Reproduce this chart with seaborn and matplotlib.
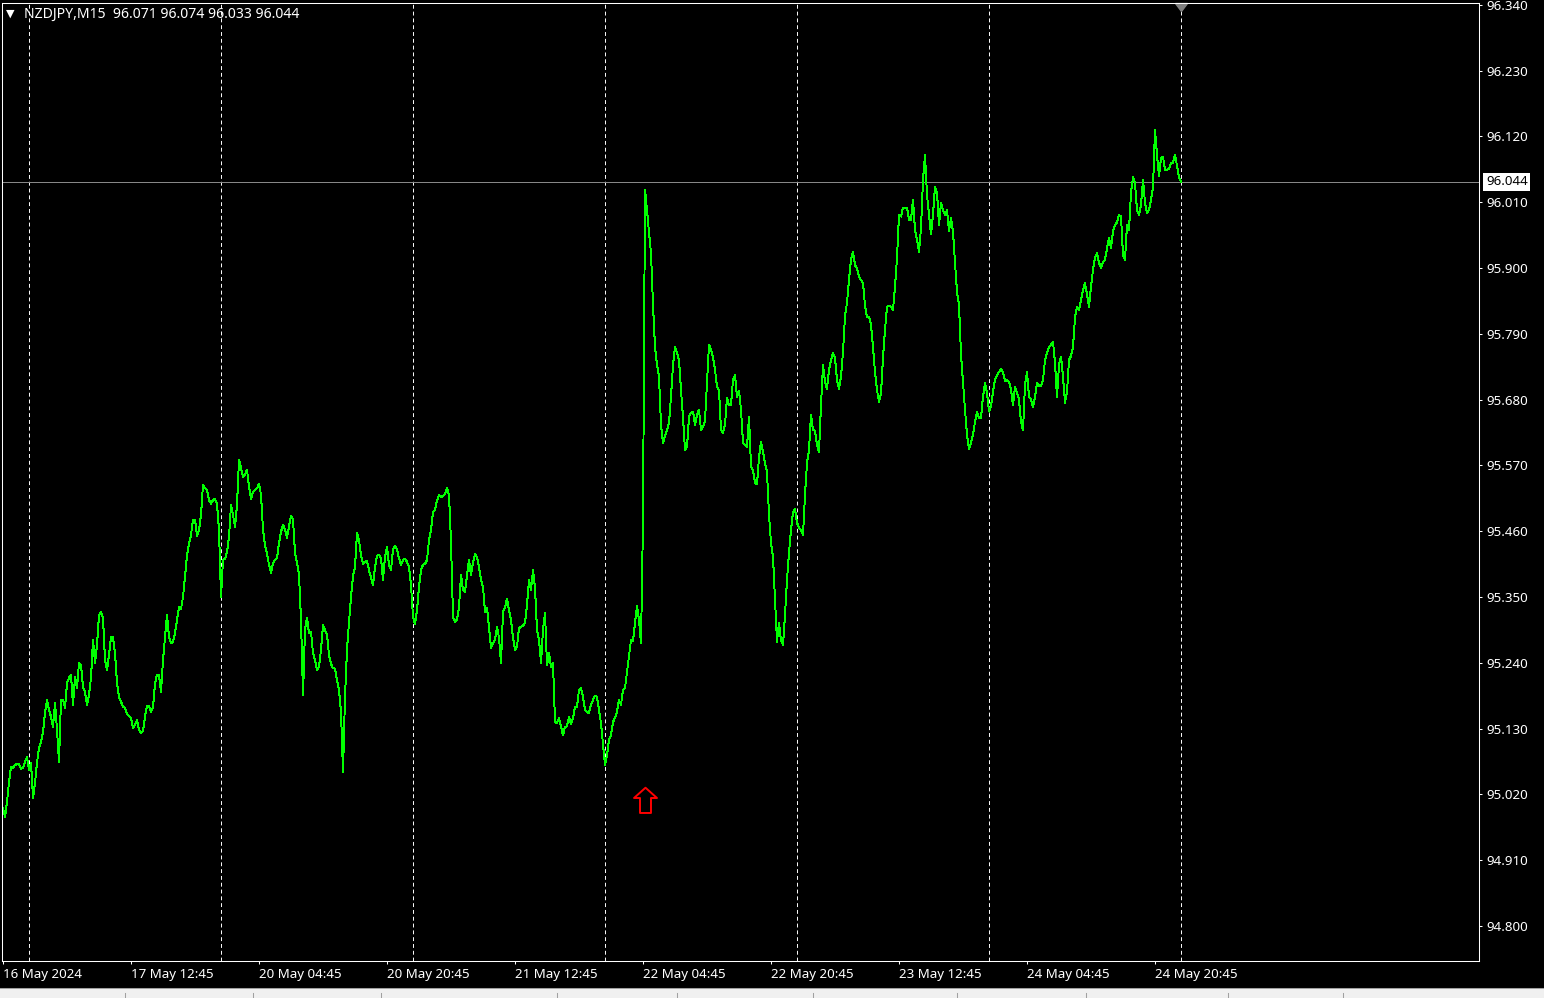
import numpy as np
import pandas as pd
import matplotlib
matplotlib.use("Agg")
import matplotlib.pyplot as plt
import seaborn as sns
from matplotlib.path import Path
from matplotlib.patches import Rectangle
from matplotlib.lines import Line2D

symbol = "NZDJPY,M15"
last_ohlc = [96.071, 96.074, 96.033, 96.044]

# M15 closes, one value per bar
close_a = [
    94.997, 94.982, 95.007, 95.041, 95.066, 95.064, 95.069, 95.071, 95.071, 95.063,
    95.064, 95.074, 95.083, 95.061, 95.073, 95.014, 95.039, 95.073, 95.098, 95.108,
    95.124, 95.156, 95.178, 95.161, 95.150, 95.133, 95.173, 95.128, 95.074, 95.178,
    95.178, 95.165, 95.206, 95.215, 95.220, 95.170, 95.216, 95.198, 95.240, 95.236,
    95.200, 95.191, 95.170, 95.186, 95.215, 95.278, 95.240, 95.270, 95.320, 95.325,
    95.315, 95.245, 95.228, 95.253, 95.283, 95.283, 95.256, 95.206, 95.183, 95.175,
    95.166, 95.165, 95.154, 95.151, 95.148, 95.131, 95.136, 95.144, 95.128, 95.123,
    95.126, 95.150, 95.168, 95.168, 95.158, 95.165, 95.206, 95.220, 95.220, 95.191,
    95.245, 95.283, 95.320, 95.283, 95.273, 95.275, 95.290, 95.312, 95.333, 95.330,
    95.350, 95.384, 95.420, 95.439, 95.454, 95.479, 95.479, 95.452, 95.462, 95.487,
    95.538, 95.532, 95.529, 95.512, 95.506, 95.512, 95.514, 95.506, 95.462, 95.350,
    95.412, 95.414, 95.425, 95.450, 95.504, 95.487, 95.467, 95.504, 95.579, 95.566,
    95.551, 95.554, 95.563, 95.534, 95.514, 95.526, 95.529, 95.532, 95.539, 95.521,
    95.462, 95.437, 95.422, 95.404, 95.390, 95.407, 95.412, 95.415, 95.440, 95.459,
    95.471, 95.462, 95.449, 95.467, 95.486, 95.479, 95.424, 95.407, 95.387,
]
close_b = [
    95.312, 95.186, 95.295, 95.315, 95.290, 95.292, 95.256, 95.245, 95.228, 95.233,
    95.262, 95.303, 95.295, 95.287, 95.253, 95.238, 95.231, 95.230, 95.211, 95.195,
    95.158, 95.058, 95.183, 95.262, 95.308, 95.350, 95.385, 95.400, 95.457, 95.445,
    95.420, 95.405, 95.409, 95.410, 95.395, 95.382, 95.370, 95.400, 95.419, 95.420,
    95.415, 95.379, 95.417, 95.434, 95.404, 95.395, 95.429, 95.435, 95.429, 95.415,
    95.404, 95.412, 95.414, 95.409, 95.400, 95.370, 95.317, 95.305, 95.328, 95.367,
    95.395, 95.404, 95.405, 95.412, 95.445, 95.462, 95.492, 95.496, 95.511, 95.521,
    95.517, 95.519, 95.522, 95.532, 95.521, 95.442, 95.317, 95.308, 95.313, 95.333,
    95.387, 95.362, 95.358, 95.387, 95.412, 95.387, 95.407, 95.422, 95.417, 95.400,
    95.379, 95.367, 95.325, 95.332, 95.300, 95.265, 95.273, 95.278, 95.300, 95.282,
    95.240, 95.325, 95.333, 95.347, 95.328, 95.312, 95.282, 95.262, 95.267, 95.298,
    95.300, 95.302, 95.307, 95.337, 95.379, 95.362, 95.395, 95.365, 95.295, 95.278,
    95.240, 95.295, 95.323, 95.236, 95.256, 95.233, 95.240, 95.141, 95.139, 95.148,
    95.133, 95.119, 95.133, 95.134, 95.150, 95.138, 95.148, 95.166, 95.166, 95.195,
    95.198, 95.183, 95.161, 95.158, 95.156, 95.170, 95.178, 95.185, 95.183, 95.161,
    95.139, 95.103,
]
close_c = [
    95.069, 95.086, 95.111, 95.119, 95.141, 95.148, 95.158, 95.178, 95.170, 95.195,
    95.198, 95.225, 95.253, 95.278, 95.277, 95.307, 95.335, 95.312, 95.273, 95.479,
    96.031, 95.997, 95.959, 95.925, 95.838, 95.768, 95.738, 95.718, 95.638, 95.608,
    95.619, 95.629, 95.641, 95.685, 95.738, 95.768, 95.758, 95.746, 95.696, 95.650,
    95.596, 95.601, 95.651, 95.658, 95.660, 95.638, 95.655, 95.663, 95.629, 95.634,
    95.645, 95.708, 95.772, 95.763, 95.750, 95.730, 95.701, 95.696, 95.629, 95.624,
    95.638, 95.683, 95.671, 95.671, 95.713, 95.721, 95.685, 95.695, 95.663, 95.608,
    95.604, 95.601, 95.651, 95.568, 95.561, 95.541, 95.538, 95.584, 95.609, 95.593,
    95.574, 95.559, 95.487, 95.440, 95.417, 95.345, 95.275, 95.307, 95.277, 95.270,
    95.320, 95.379, 95.424, 95.462, 95.492, 95.497, 95.474, 95.466, 95.462, 95.454,
    95.521, 95.574, 95.596, 95.655, 95.629, 95.628, 95.604, 95.593, 95.671, 95.738,
    95.710, 95.698, 95.730, 95.746, 95.758, 95.750, 95.713, 95.698, 95.718, 95.760,
    95.820, 95.842, 95.880, 95.915, 95.927, 95.905, 95.899, 95.885, 95.880, 95.875,
    95.837, 95.818, 95.818, 95.805, 95.768, 95.726, 95.696, 95.676, 95.690, 95.750,
    95.797, 95.835, 95.837, 95.835, 95.830, 95.869, 95.917, 95.989,
]
close_d = [
    95.986, 96.001, 96.001, 96.001, 95.981, 95.981, 96.014, 95.964, 95.947, 95.927,
    95.967, 96.047, 96.089, 96.022, 95.989, 95.956, 95.989, 96.036, 96.026, 95.972,
    96.009, 95.997, 95.989, 95.997, 95.962, 95.984, 95.961, 95.909, 95.860, 95.838,
    95.755, 95.708, 95.663, 95.621, 95.598, 95.608, 95.621, 95.643, 95.660, 95.650,
    95.650, 95.685, 95.708, 95.691, 95.660, 95.670, 95.693, 95.713, 95.721, 95.726,
    95.731, 95.725, 95.711, 95.713, 95.710, 95.696, 95.671, 95.701, 95.691, 95.680,
    95.643, 95.629, 95.705, 95.726, 95.685, 95.680, 95.668, 95.685, 95.708, 95.703,
    95.703, 95.713, 95.746, 95.758, 95.767, 95.772, 95.777, 95.741, 95.685, 95.738,
    95.752, 95.718, 95.675, 95.693, 95.746, 95.753, 95.768, 95.817, 95.835, 95.830,
    95.847, 95.862, 95.875, 95.855, 95.835, 95.869, 95.897, 95.917, 95.925, 95.909,
    95.900, 95.910, 95.914, 95.932, 95.951, 95.934, 95.961, 95.972, 95.976, 95.989,
    95.986, 95.922, 95.914, 95.972, 95.964, 96.026, 96.052, 96.042, 95.996, 95.989,
    96.006, 96.047, 96.009, 95.992, 95.997, 96.014, 96.034, 96.131, 96.089, 96.054,
    96.084, 96.086, 96.064, 96.064, 96.066, 96.076, 96.076, 96.089, 96.071, 96.051,
    96.044,
]

time_labels = ["16 May 2024", "17 May 12:45", "20 May 04:45", "20 May 20:45",
               "21 May 12:45", "22 May 04:45", "22 May 20:45", "23 May 12:45",
               "24 May 04:45", "24 May 20:45"]
time_label_bars = [0, 64, 128, 192, 256, 320, 384, 448, 512, 576]
day_sep_bars = [13, 109, 205, 301, 397, 493, 589]
price_ticks = [96.340, 96.230, 96.120, 96.010, 95.900, 95.790, 95.680, 95.570,
               95.460, 95.350, 95.240, 95.130, 95.020, 94.910, 94.800]
arrow_bar = 321
arrow_price = 95.010

close = close_a + close_b + close_c + close_d
df = pd.DataFrame({"bar": np.arange(len(close)), "close": close})

plt.rcParams["font.family"] = ["Noto Sans", "DejaVu Sans"]
FS = 9.6
W, H = 1544, 998
fig = plt.figure(figsize=(W / 100, H / 100), dpi=100, facecolor="black")
ax = fig.add_axes([2 / W, (H - 961) / H, 1477 / W, 958 / H])
ax.set_facecolor("black")

sns.lineplot(data=df, x="bar", y="close", ax=ax, color="#00ff00",
             linewidth=0.7, antialiased=False)

for b in day_sep_bars:
    ax.axvline(b, color="white", lw=0.7, ls=(0, (4, 3)), zorder=1)
ax.axhline(last_ohlc[3], color="#8c8c8c", lw=0.7, zorder=1)

ax.set_xlim(-0.5, 738)
ax.set_ylim(94.7415, 96.343)
ax.set_xlabel("")
ax.set_ylabel("")

for s in ax.spines.values():
    s.set_color("white")
    s.set_linewidth(0.75)

ax.yaxis.tick_right()
ax.set_yticks(price_ticks)
ax.set_yticklabels([f"{p:.3f}" for p in price_ticks])
ax.tick_params(axis="y", colors="white", length=2.2, width=0.75, pad=3,
               labelsize=FS)
ax.set_xticks(time_label_bars)
ax.set_xticklabels(time_labels)
ax.tick_params(axis="x", colors="white", length=2.2, width=0.75, pad=3,
               labelsize=FS)
for lbl in ax.get_xticklabels():
    lbl.set_ha("left")

# current price label
ax.annotate(f"{last_ohlc[3]:.3f}", xy=(1, last_ohlc[3]),
            xycoords=("axes fraction", "data"), xytext=(5, 0),
            textcoords="offset points", va="center", ha="left",
            color="black", fontsize=FS, annotation_clip=False,
            bbox=dict(boxstyle="square,pad=0.2", fc="white", ec="none"))

# up arrow object
arrow_path = Path([(0, 12.8), (11.5, 2.5), (5.5, 2.5), (5.5, -12.5),
                   (-5.5, -12.5), (-5.5, 2.5), (-11.5, 2.5), (0, 12.8)],
                  closed=True)
ax.plot([arrow_bar], [arrow_price], marker=arrow_path, markersize=18.4,
        mfc="none", mec="red", mew=1.4, ls="none")

# chart shift marker
shift_path = Path([(-1.5, 1), (1.5, 1), (0, -1), (-1.5, 1)], closed=True)
ax.plot([day_sep_bars[-1]], [96.336], marker=shift_path, markersize=8.6,
        color="#808080", ls="none", clip_on=False)

# header
fig.text(6 / W, 1 - 14 / H, "\u25bc", color="white", fontsize=8,
         va="center", family="DejaVu Sans")
fig.text(24 / W, 1 - 14 / H,
         f"{symbol}  " + " ".join(f"{v:.3f}" for v in last_ohlc),
         color="white", fontsize=10.1, va="center")

# bottom tab strip
fig.patches.append(Rectangle((0, 0), 1, 10 / H, transform=fig.transFigure,
                             fc="#f0f0f0", ec="none"))
fig.lines.append(Line2D([0, 1], [10.5 / H, 10.5 / H], transform=fig.transFigure,
                        color="#a0a0a0", lw=0.75))
for sx in [125, 253, 381, 557, 677, 813, 957, 1086, 1228, 1343]:
    fig.lines.append(Line2D([sx / W, sx / W], [0, 5 / H],
                            transform=fig.transFigure, color="#a0a0a0", lw=0.75))

fig.savefig("out.png", dpi=100, facecolor="black")
